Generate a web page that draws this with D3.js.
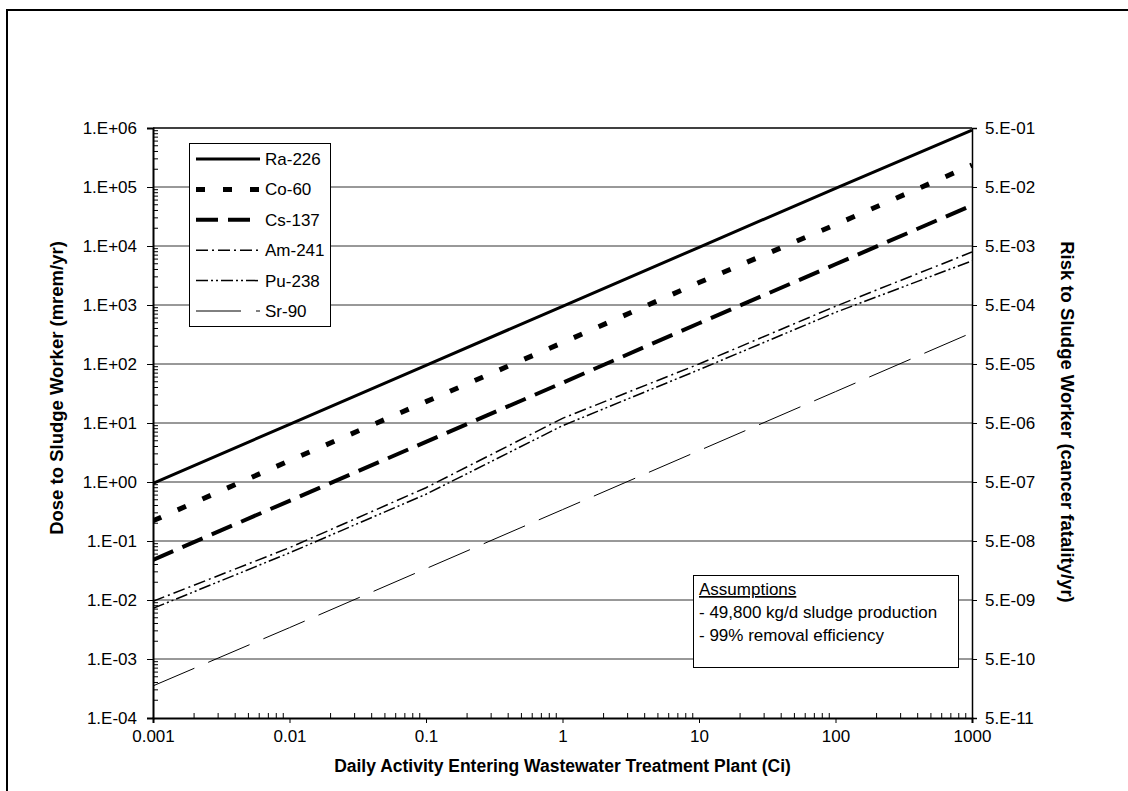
<!DOCTYPE html>
<html>
<head>
<meta charset="utf-8">
<script src="https://cdn.jsdelivr.net/npm/d3@7"></script>
<style>
  body { margin: 0; background: #fff; }
  svg { display: block; }
  text { font-family: Arial, "Liberation Sans", sans-serif; fill: #000; }
</style>
</head>
<body>
<div id="chart-area"></div>
<script>
// data (dose in mrem/yr at each daily activity in Ci)
var activity = [0.001, 0.01, 0.1, 1, 10, 100, 1000];
var ra226 = [0.95, 9.5, 95, 950, 9500, 95000, 920000];
var co60  = [0.22, 2.3, 23, 230, 2400, 23000, 235000];
var cs137 = [0.048, 0.48, 4.8, 48, 490, 4900, 49000];
var am241 = [0.0095, 0.077, 0.8, 12, 100, 950, 7900];
var pu238 = [0.0072, 0.063, 0.62, 9, 80, 750, 5600];
var sr90  = [0.00035, 0.0034, 0.034, 0.34, 3.4, 34, 340];

var seriesNames = ["Ra-226", "Co-60", "Cs-137", "Am-241", "Pu-238", "Sr-90"];
var seriesValues = [ra226, co60, cs137, am241, pu238, sr90];

var doseTicks = [1e-4, 1e-3, 1e-2, 1e-1, 1, 10, 100, 1e3, 1e4, 1e5, 1e6];
var riskTicks = [5e-11, 5e-10, 5e-9, 5e-8, 5e-7, 5e-6, 5e-5, 5e-4, 5e-3, 5e-2, 5e-1];
var activityTicks = [0.001, 0.01, 0.1, 1, 10, 100, 1000];
var activityLabels = ["0.001", "0.01", "0.1", "1", "10", "100", "1000"];
var assumptions = ["- 49,800 kg/d sludge production", "- 99% removal efficiency"];

// line styles for each nuclide
var styles = [
  { w: 3, dash: null },
  { w: 5, dash: "9,18" },
  { w: 4, dash: "22,10" },
  { w: 1.5, dash: "12,4,2,4" },
  { w: 1.5, dash: "12,3,2,3,2,3" },
  { w: 1, dash: "45,15" }
];

var W = 1128, H = 791;
var plotLeft = 153, plotRight = 972, plotTop = 128, plotBottom = 718;
var tickFont = "17px";

var svg = d3.select("#chart-area").append("svg")
    .attr("width", W)
    .attr("height", H);

// outer frame (runs off the page at right and bottom)
svg.append("rect")
    .attr("x", 7).attr("y", 10)
    .attr("width", 1200).attr("height", 900)
    .attr("fill", "none").attr("stroke", "#000").attr("stroke-width", 2);

var xScale = d3.scaleLog().domain([0.001, 1000]).range([plotLeft, plotRight]);
var yScale = d3.scaleLog().domain([1e-4, 1e6]).range([plotBottom, plotTop]);
var yRisk = d3.scaleLog().domain([5e-11, 5e-1]).range([plotBottom, plotTop]);

function fmtE(v) {
  var e = Math.floor(Math.log10(v) + 1e-9);
  var m = Math.round(v / Math.pow(10, e));
  var s = e < 0 ? "-" : "+";
  var a = Math.abs(e);
  return m + ".E" + s + (a < 10 ? "0" + a : a);
}

// horizontal grid lines
svg.append("g").selectAll("line")
    .data(doseTicks.slice(1, -1))
    .enter().append("line")
    .attr("x1", plotLeft).attr("x2", plotRight)
    .attr("y1", d => yScale(d)).attr("y2", d => yScale(d))
    .attr("stroke", "#333").attr("stroke-width", 1);

// top border
svg.append("line")
    .attr("x1", plotLeft).attr("x2", plotRight)
    .attr("y1", plotTop).attr("y2", plotTop)
    .attr("stroke", "#000").attr("stroke-width", 1.5);

// series lines
var line = d3.line()
    .x(d => xScale(d[0]))
    .y(d => yScale(d[1]));

svg.append("defs").append("clipPath").attr("id", "plotclip")
    .append("rect").attr("x", plotLeft).attr("y", plotTop - 3)
    .attr("width", plotRight - plotLeft).attr("height", plotBottom - plotTop + 3);

seriesValues.forEach(function(vals, i) {
  svg.append("path")
      .datum(activity.map((a, j) => [a, vals[j]]))
      .attr("d", line)
      .attr("clip-path", "url(#plotclip)")
      .attr("fill", "none")
      .attr("stroke", "#000")
      .attr("stroke-width", styles[i].w)
      .attr("stroke-dasharray", styles[i].dash);
});

// left axis: major ticks outward, minor ticks inward
var leftAxis = d3.axisLeft(yScale)
    .tickValues(doseTicks)
    .tickFormat(fmtE)
    .tickSize(6)
    .tickPadding(10);
var gl = svg.append("g").attr("transform", "translate(" + plotLeft + ",0)").call(leftAxis);
gl.select(".domain").attr("stroke-width", 2);
gl.selectAll("text").style("font-size", tickFont).attr("font-family", "Arial, 'Liberation Sans', sans-serif");

var minorY = [];
doseTicks.slice(0, -1).forEach(function(t) {
  for (var k = 2; k <= 9; k++) minorY.push(t * k);
});
svg.append("g").selectAll("line")
    .data(minorY).enter().append("line")
    .attr("x1", plotLeft).attr("x2", plotLeft + 5)
    .attr("y1", d => yScale(d)).attr("y2", d => yScale(d))
    .attr("stroke", "#000");

// bottom axis
var bottomAxis = d3.axisBottom(xScale)
    .tickValues(activityTicks)
    .tickFormat((d, i) => activityLabels[i])
    .tickSize(5)
    .tickPadding(7);
var gb = svg.append("g").attr("transform", "translate(0," + plotBottom + ")").call(bottomAxis);
gb.select(".domain").attr("stroke-width", 2);
gb.selectAll("text").style("font-size", tickFont)
    .attr("font-family", "'Liberation Sans Narrow', 'Arial Narrow', Arial, sans-serif");

var minorX = [];
activityTicks.slice(0, -1).forEach(function(t) {
  for (var k = 2; k <= 9; k++) minorX.push(t * k);
});
svg.append("g").selectAll("line")
    .data(minorX).enter().append("line")
    .attr("x1", d => xScale(d)).attr("x2", d => xScale(d))
    .attr("y1", plotBottom).attr("y2", plotBottom - 5)
    .attr("stroke", "#000");

// right axis (risk)
var rightAxis = d3.axisRight(yRisk)
    .tickValues(riskTicks)
    .tickFormat(fmtE)
    .tickSize(5)
    .tickPadding(8);
var gr = svg.append("g").attr("transform", "translate(" + plotRight + ",0)").call(rightAxis);
gr.select(".domain").attr("stroke-width", 1.5);
gr.selectAll("text").style("font-size", tickFont).attr("font-family", "Arial, 'Liberation Sans', sans-serif");

// axis titles
svg.append("text")
    .attr("transform", "translate(63,388) rotate(-90)")
    .attr("text-anchor", "middle")
    .style("font-size", "18.5px").style("font-weight", "bold")
    .text("Dose to Sludge Worker (mrem/yr)");

svg.append("text")
    .attr("transform", "translate(1061,422) rotate(90)")
    .attr("text-anchor", "middle")
    .style("font-size", "18.5px").style("font-weight", "bold")
    .text("Risk to Sludge Worker (cancer fatality/yr)");

svg.append("text")
    .attr("x", (plotLeft + plotRight) / 2).attr("y", 772)
    .attr("text-anchor", "middle")
    .attr("font-family", "'Liberation Sans Narrow', 'Arial Narrow', Arial, sans-serif")
    .style("font-size", "17.5px").style("font-weight", "bold")
    .text("Daily Activity Entering Wastewater Treatment Plant (Ci)");

// legend
var lg = svg.append("g");
lg.append("rect")
    .attr("x", 189.5).attr("y", 143.5).attr("width", 141).attr("height", 183)
    .attr("fill", "#fff").attr("stroke", "#000");
seriesNames.forEach(function(name, i) {
  var yy = 159 + i * 30.4;
  lg.append("line")
      .attr("x1", 196).attr("x2", 260).attr("y1", yy).attr("y2", yy)
      .attr("stroke", "#000")
      .attr("stroke-width", styles[i].w)
      .attr("stroke-dasharray", styles[i].dash);
  lg.append("text")
      .attr("x", 265).attr("y", yy + 6)
      .style("font-size", "17px")
      .text(name);
});

// assumptions box
var ab = svg.append("g");
ab.append("rect")
    .attr("x", 693.5).attr("y", 575.5).attr("width", 265).attr("height", 92)
    .attr("fill", "#fff").attr("stroke", "#000");
ab.append("text")
    .attr("x", 699).attr("y", 595)
    .style("font-size", "17px")
    .style("text-decoration", "underline")
    .text("Assumptions");
assumptions.forEach(function(t, i) {
  ab.append("text")
      .attr("x", 699).attr("y", 618 + i * 23)
      .style("font-size", "17px")
      .text(t);
});
</script>
</body>
</html>
